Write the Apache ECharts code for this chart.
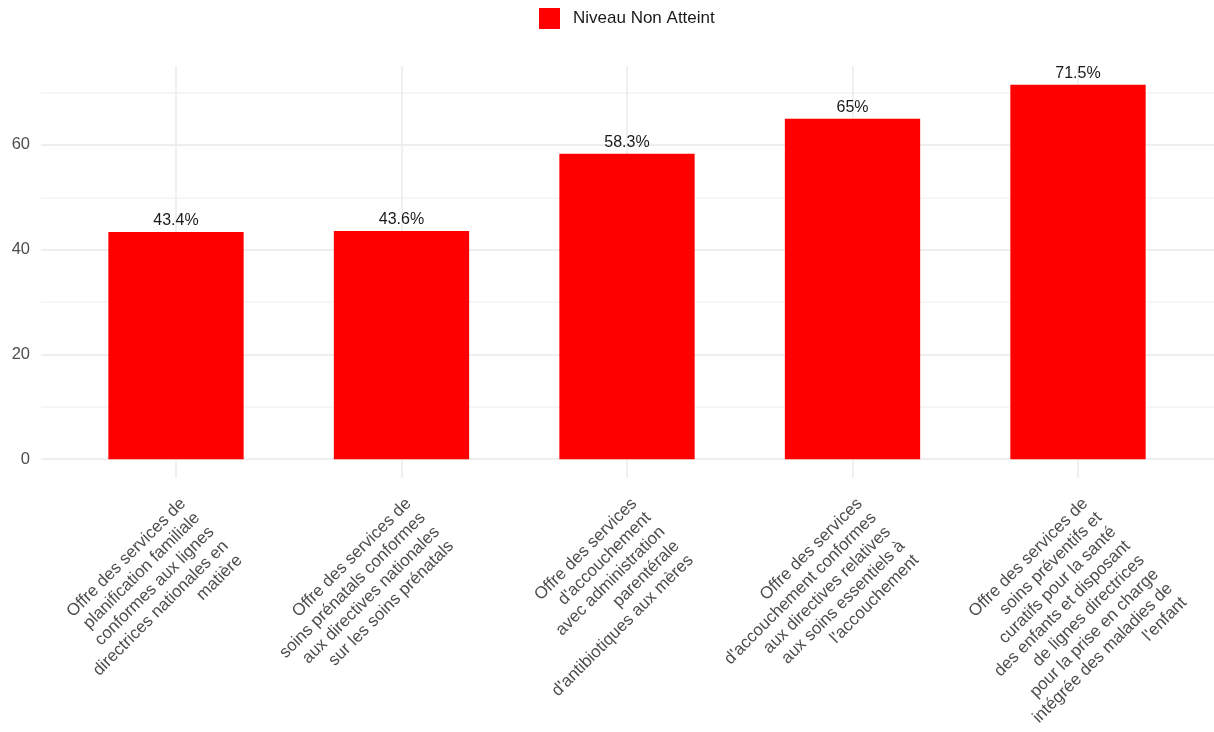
<!DOCTYPE html>
<html>
<head>
<meta charset="utf-8">
<script src="https://cdn.jsdelivr.net/npm/echarts@6/dist/echarts.min.js"></script>
<style>html,body{margin:0;padding:0;background:#fff;}#c{width:1214px;height:732px;}</style>
</head>
<body>
<div id="c"></div>
<script>
const categories = [
  "Offre des services de\nplanification familiale\nconformes aux lignes\ndirectrices nationales en\nmatière",
  "Offre des services de\nsoins prénatals conformes\naux directives nationales\nsur les soins prénatals",
  "Offre des services\nd'accouchement\navec administration\nparentérale\nd'antibiotiques aux mères",
  "Offre des services\nd'accouchement conformes\naux directives relatives\naux soins essentiels à\nl'accouchement",
  "Offre des services de\nsoins préventifs et\ncuratifs pour la santé\ndes enfants et disposant\nde lignes directrices\npour la prise en charge\nintégrée des maladies de\nl'enfant"
];
const values = [43.4, 43.6, 58.3, 65, 71.5];
const seriesName = "Niveau Non Atteint";
const yTicks = [0, 20, 40, 60];

const FONT = "'Liberation Sans', Arial, sans-serif";
const chart = echarts.init(document.getElementById('c'));
const vmax = Math.max(...values);
const yMax = vmax * 1.05;
const yMin = -vmax * 0.05;

chart.setOption({
  animation: false,
  backgroundColor: '#ffffff',
  legend: {
    top: 8, left: 539, padding: 0,
    itemWidth: 21, itemHeight: 21, itemGap: 10,
    icon: 'rect',
    textStyle: { fontFamily: FONT, fontSize: 17, color: '#1a1a1a', padding: [0, 0, 0, 8] },
    data: [seriesName]
  },
  grid: [
    { left: 41, right: 0, top: 66, bottom: 273, containLabel: false, outerBoundsMode: 'none' },
    { left: 63.25, right: 23.25, top: 66, bottom: 254, containLabel: false, outerBoundsMode: 'none' }
  ],
  xAxis: [
    { gridIndex: 0, type: 'value', show: false, min: 0, max: 1 },
    {
      gridIndex: 1, type: 'category', data: categories,
      axisLine: { show: false }, axisTick: { show: false },
      splitLine: { show: true, alignWithLabel: true, lineStyle: { color: '#ebebeb', width: 1.5 } },
      axisLabel: {
        interval: 0, rotate: 45, align: 'right', verticalAlign: 'top', margin: 16,
        fontFamily: FONT, fontSize: 17, lineHeight: 20, color: '#4d4d4d'
      }
    }
  ],
  yAxis: [
    {
      gridIndex: 0, type: 'value', min: 0, max: yMax, interval: 10,
      axisLine: { show: false }, axisTick: { show: false },
      axisLabel: {
        showMaxLabel: false, margin: 11,
        fontFamily: FONT, fontSize: 16.5, color: '#4d4d4d',
        formatter: v => (yTicks.indexOf(Math.round(v)) >= 0 && Math.abs(v - Math.round(v)) < 1e-6) ? String(Math.round(v)) : ''
      },
      splitLine: { show: true, showMaxLine: false, lineStyle: { color: ['#e8e8e8', '#f3f3f3'], width: 1.5 } }
    },
    { gridIndex: 1, type: 'value', min: yMin, max: yMax, show: false, splitLine: { show: false } }
  ],
  series: [{
    name: seriesName, type: 'bar', xAxisIndex: 1, yAxisIndex: 1,
    data: values, barWidth: '60%',
    itemStyle: { color: '#ff0000' },
    label: {
      show: true, position: 'top', distance: 3,
      fontFamily: FONT, fontSize: 16, color: '#1a1a1a',
      formatter: p => p.value + '%'
    }
  }]
});
</script>
</body>
</html>
